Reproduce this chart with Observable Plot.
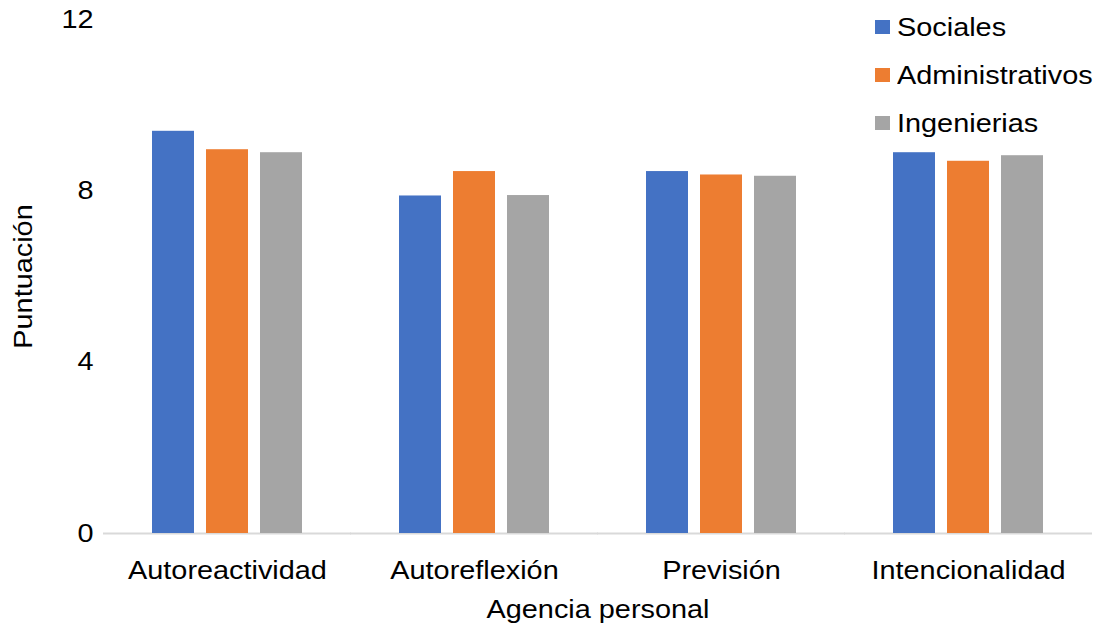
<!DOCTYPE html>
<html>
<head>
<meta charset="utf-8">
<script src="https://cdn.jsdelivr.net/npm/d3@7"></script>
<script src="https://cdn.jsdelivr.net/npm/@observablehq/plot@0.6"></script>
<style>
  body { margin: 0; background: #fff; }
  #chart { position: relative; width: 1097px; height: 624px; font-family: "Liberation Sans", Arial, sans-serif; }
  #legend { position: absolute; left: 875px; top: 0; }
  .item { position: absolute; display: flex; align-items: center; white-space: nowrap; font-size: 26px; color: #000; }
  .item span.lbl { display: inline-block; transform: scaleX(1.11); transform-origin: left center; }
  .sw { width: 15px; height: 14px; margin-right: 7px; flex: none; }
</style>
</head>
<body>
<div id="chart"><div id="legend"></div></div>
<script>
// Dimensions of personal agency by study area
const categories = ["Autoreactividad", "Autoreflexión", "Previsión", "Intencionalidad"];
const groups = ["Sociales", "Administrativos", "Ingenierias"];
const sociales = [9.39, 7.88, 8.45, 8.89];
const administrativos = [8.96, 8.45, 8.37, 8.69];
const ingenierias = [8.89, 7.89, 8.34, 8.82];
const colors = ["#4472C4", "#ED7D31", "#A5A5A5"];
const yTicks = [0, 4, 8, 12];

const series = [sociales, administrativos, ingenierias];
const data = categories.flatMap((c, i) =>
  groups.map((g, j) => ({category: c, group: g, value: series[j][i]}))
);

// horizontal room between neighbouring facets, split on each side of a facet
const half = 48;

const chart = Plot.plot({
  width: 1097,
  height: 624,
  marginTop: 19,
  marginBottom: 91,
  marginLeft: 103,
  marginRight: 5,
  style: {fontFamily: "'Liberation Sans', Arial, sans-serif", fontSize: "26px", color: "#000", background: "#fff"},
  fx: {domain: categories, paddingInner: 0.383, paddingOuter: 0.19},
  x: {domain: groups, paddingInner: 0.22, paddingOuter: 0, axis: null},
  y: {domain: [0, 12]},
  color: {domain: groups, range: colors},
  marks: [
    // baseline, stretched so the facet pieces join into one line
    Plot.ruleY([0], {stroke: "#D9D9D9", strokeWidth: 2, insetLeft: -half, insetRight: -half}),
    Plot.barY(data, {fx: "category", x: "group", y: "value", fill: "group"}),
    Plot.axisY({ticks: yTicks, tickSize: 0, tickPadding: 58, label: "Puntuación", labelAnchor: "center", labelArrow: "none", labelOffset: 138}),
    Plot.axisFx({anchor: "bottom", tickSize: 0, tickPadding: 27, label: "Agencia personal", labelAnchor: "center", labelArrow: "none", labelOffset: 84})
  ]
});
document.getElementById("chart").prepend(chart);

// slightly wide lettering, scaled about each text's own anchor
chart.querySelectorAll("text").forEach((t) => {
  const x = parseFloat(t.getAttribute("x") || 0);
  const tr = t.getAttribute("transform") || "";
  t.setAttribute("transform", `${tr} translate(${x},0) scale(1.11,1) translate(${-x},0)`);
});

// Legend in the top-right corner
const legend = document.getElementById("legend");
groups.forEach((g, i) => {
  const item = document.createElement("div");
  item.className = "item";
  item.style.top = (27 + i * 48 - 16) + "px";
  item.style.height = "32px";
  const sw = document.createElement("span");
  sw.className = "sw";
  sw.style.background = colors[i];
  const label = document.createElement("span");
  label.className = "lbl";
  label.textContent = g;
  item.append(sw, label);
  legend.append(item);
});
</script>
</body>
</html>
